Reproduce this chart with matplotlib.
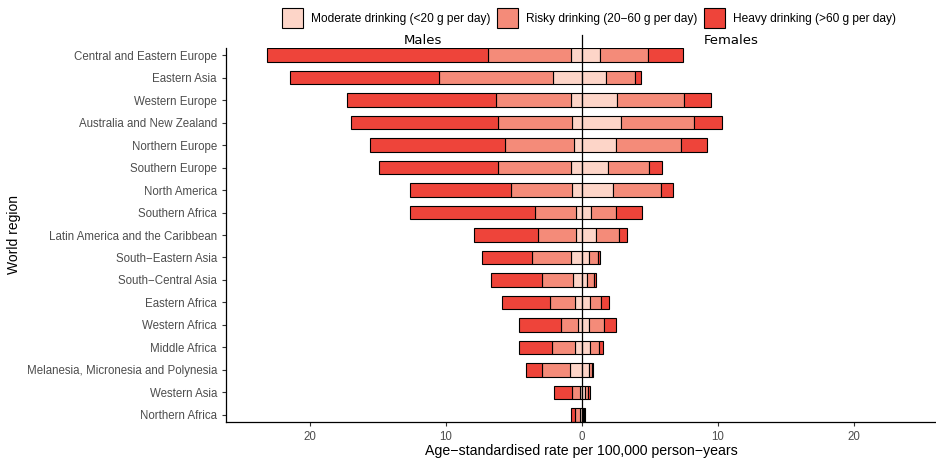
import matplotlib
matplotlib.use("Agg")
import matplotlib.pyplot as plt
from matplotlib.patches import Patch
import numpy as np

plt.rcParams['font.family'] = ['Liberation Sans', 'DejaVu Sans']

regions = [
    "Central and Eastern Europe", "Eastern Asia", "Western Europe",
    "Australia and New Zealand", "Northern Europe", "Southern Europe",
    "North America", "Southern Africa", "Latin America and the Caribbean",
    "South\u2212Eastern Asia", "South\u2212Central Asia", "Eastern Africa",
    "Western Africa", "Middle Africa", "Melanesia, Micronesia and Polynesia",
    "Western Asia", "Northern Africa",
]

# Age-standardised rates per 100,000 person-years, by drinking level
male_moderate = [0.78, 2.10, 0.78, 0.71, 0.59, 0.78, 0.71, 0.46, 0.46, 0.83, 0.63, 0.51, 0.29, 0.54, 0.88, 0.15, 0.15]
male_risky    = [6.15, 8.39, 5.54, 5.47, 5.07, 5.37, 4.48, 2.97, 2.78, 2.85, 2.28, 1.84, 1.25, 1.66, 2.08, 0.59, 0.39]
male_heavy    = [16.20, 10.98, 10.98, 10.78, 9.90, 8.75, 7.46, 9.19, 4.70, 3.67, 3.78, 3.53, 3.09, 2.43, 1.18, 1.32, 0.29]

female_moderate = [1.30, 1.74, 2.60, 2.85, 2.50, 1.94, 2.28, 0.66, 1.06, 0.51, 0.40, 0.57, 0.51, 0.62, 0.52, 0.22, 0.10]
female_risky    = [3.53, 2.16, 4.90, 5.39, 4.78, 3.02, 3.51, 1.84, 1.69, 0.70, 0.46, 0.81, 1.11, 0.63, 0.20, 0.20, 0.06]
female_heavy    = [2.60, 0.44, 1.96, 2.06, 1.91, 0.92, 0.93, 1.89, 0.54, 0.14, 0.17, 0.58, 0.91, 0.29, 0.09, 0.20, 0.08]

levels = ["Moderate drinking (<20 g per day)",
          "Risky drinking (20\u221260 g per day)",
          "Heavy drinking (>60 g per day)"]
colors = ["#FDD5C8", "#F48B79", "#EE443A"]

xticks = [-20, -10, 0, 10, 20]
xtick_labels = ["20", "10", "0", "10", "20"]

fig = plt.figure(figsize=(9.36, 4.63), dpi=100)
ax = fig.add_axes([226 / 936, 1 - 422 / 463, 710 / 936, (422 - 48) / 463])

y = np.arange(len(regions))
h = 0.6
edge = dict(edgecolor="black", linewidth=0.8)

m_series = [np.array(male_moderate), np.array(male_risky), np.array(male_heavy)]
f_series = [np.array(female_moderate), np.array(female_risky), np.array(female_heavy)]

left_m = np.zeros(len(regions))
left_f = np.zeros(len(regions))
for vals_m, vals_f, c in zip(m_series, f_series, colors):
    ax.barh(y, -vals_m, left=-left_m, height=h, color=c, **edge, zorder=2)
    ax.barh(y, vals_f, left=left_f, height=h, color=c, **edge, zorder=2)
    left_m += vals_m
    left_f += vals_f

ax.plot([0, 0], [0, 1.035], transform=ax.get_xaxis_transform(),
        color="black", linewidth=0.9, clip_on=False, zorder=3)

ax.set_ylim(len(regions) - 1 + 0.32, -0.32)
ax.set_xlim(-26.18, 26.03)

ax.set_yticks(y)
ax.set_yticklabels(regions)
ax.set_xticks(xticks)
ax.set_xticklabels(xtick_labels)
ax.tick_params(axis="both", colors="#333333", labelcolor="#4D4D4D",
               labelsize=8.3, length=3, width=0.8)

for s in ["top", "right"]:
    ax.spines[s].set_visible(False)
for s in ["left", "bottom"]:
    ax.spines[s].set_linewidth(0.9)
    ax.spines[s].set_color("black")

ax.set_xlabel("Age\u2212standardised rate per 100,000 person\u2212years", fontsize=10.2, labelpad=1)
ax.set_ylabel("World region", fontsize=10, labelpad=4)

ax.text(-11.7, 1.021, "Males", transform=ax.get_xaxis_transform(),
        ha="center", va="center", fontsize=9.5, family=["DejaVu Sans"])
ax.text(11.0, 1.021, "Females", transform=ax.get_xaxis_transform(),
        ha="center", va="center", fontsize=9.5, family=["DejaVu Sans"])

handles = [Patch(facecolor=c, edgecolor="black", linewidth=0.8, label=l)
           for c, l in zip(colors, levels)]
fig.legend(handles=handles, loc="center", bbox_to_anchor=(589 / 936, 1 - 18 / 463),
           ncol=3, frameon=False, fontsize=8.6, handlelength=1.7, handleheight=2.1,
           handletextpad=0.67, columnspacing=0.6, borderaxespad=0)

fig.savefig("out.png", dpi=100)
